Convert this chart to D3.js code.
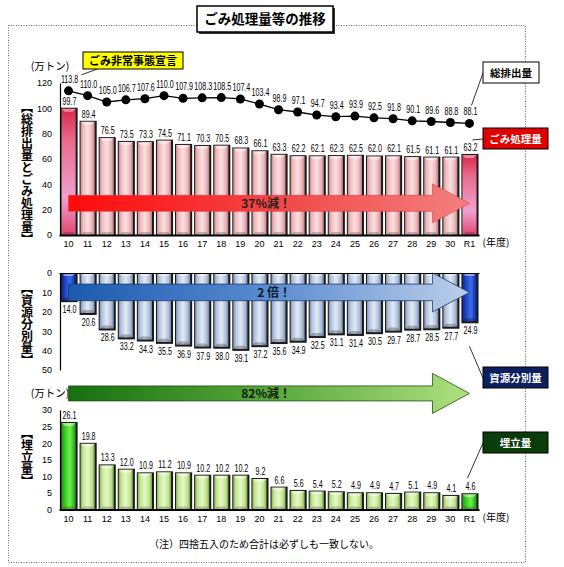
<!DOCTYPE html>
<html>
<head>
<meta charset="utf-8">
<script src="https://cdn.jsdelivr.net/npm/d3@7"></script>
<style>
  body { margin: 0; background: #fff; }
  svg { display: block; }
  text { font-family: "Noto Sans CJK JP", sans-serif; }
  .num, .tick text { font-family: "Liberation Sans Narrow", "Liberation Sans", sans-serif; }
  .vtitle { writing-mode: vertical-rl; font-weight: bold; font-size: 12px; }
</style>
</head>
<body>
<svg id="chart" width="564" height="567"></svg>
<script>
// fiscal years (H10 .. H30, R1)
const years = ["10", "11", "12", "13", "14", "15", "16", "17", "18", "19", "20",
               "21", "22", "23", "24", "25", "26", "27", "28", "29", "30", "R1"];
// 総排出量 (line)
const totalWaste = [113.8, 110.0, 105.0, 106.7, 107.6, 110.0, 107.9, 108.3, 108.5, 107.4, 103.4,
                    98.9, 97.1, 94.7, 93.4, 93.9, 92.5, 91.8, 90.1, 89.6, 88.8, 88.1];
// ごみ処理量
const processed = [99.7, 89.4, 76.5, 73.5, 73.3, 74.5, 71.1, 70.3, 70.5, 68.3, 66.1,
                   63.3, 62.2, 62.1, 62.3, 62.5, 62.0, 62.1, 61.5, 61.1, 61.1, 63.2];
// 資源分別量
const recycled = [14.0, 20.6, 28.6, 33.2, 34.3, 35.5, 36.9, 37.9, 38.0, 39.1, 37.2,
                  35.6, 34.9, 32.5, 31.1, 31.4, 30.5, 29.7, 28.7, 28.5, 27.7, 24.9];
// 埋立量
const landfill = [26.1, 19.8, 13.3, 12.0, 10.9, 11.2, 10.9, 10.2, 10.2, 10.2, 9.2,
                  6.6, 5.6, 5.4, 5.2, 4.9, 4.9, 4.7, 5.1, 4.9, 4.1, 4.6];
const ticks1 = [0, 20, 40, 60, 80, 100, 120];
const ticks2 = [0, 10, 20, 30, 40, 50];
const ticks3 = [0, 5, 10, 15, 20, 25, 30];

const svg = d3.select("#chart");
const defs = svg.append("defs");

const x = d3.scaleBand().domain(years).range([59, 479]).paddingInner(0.26).paddingOuter(0.13);
const bw = x.bandwidth();
const cx = i => x(years[i]) + bw / 2;

const y1 = d3.scaleLinear().domain([0, 120]).range([235, 83]);
const y2 = d3.scaleLinear().domain([0, 50]).range([273, 370]);
const y3 = d3.scaleLinear().domain([0, 30]).range([509.5, 410]);

// gradients
const grad = (id, stops, vertical) => {
    const g = defs.append("linearGradient").attr("id", id)
        .attr("x1", 0).attr("y1", 0).attr("x2", vertical ? 0 : 1).attr("y2", vertical ? 1 : 0);
    stops.forEach(s => g.append("stop").attr("offset", s[0]).attr("stop-color", s[1]));
};
grad("pink", [[0, "#c98c90"], [0.18, "#efbcbf"], [0.5, "#fbe0e1"], [0.82, "#eab4b7"], [1, "#b87c80"]]);
grad("pinkHi", [[0, "#d8284a"], [0.25, "#e86a8c"], [0.7, "#f0a0d0"], [1, "#e04870"]], true);
grad("blue", [[0, "#7f93b3"], [0.18, "#b6c6de"], [0.5, "#e2eaf5"], [0.82, "#afc0da"], [1, "#6f84a6"]]);
grad("blueHi", [[0, "#0a2590"], [0.4, "#2a58d8"], [0.6, "#3d6cea"], [1, "#0a2590"]]);
grad("green", [[0, "#88b058"], [0.18, "#c4e894"], [0.5, "#e6f8c8"], [0.82, "#bee48c"], [1, "#78a04a"]]);
grad("greenHi", [[0, "#1e9a10"], [0.4, "#50e030"], [0.6, "#70f050"], [1, "#1e9a10"]]);
grad("redArrow", [[0, "#ff0a0a"], [0.55, "#f24a4a"], [1, "#f38080"]]);
grad("blueArrow", [[0, "#1c5aae"], [0.5, "#5a8cd0"], [1, "#bccfea"]]);
grad("greenArrow", [[0, "#16700e"], [0.5, "#58a83a"], [1, "#b0e080"]]);

// frame and title
svg.append("rect").attr("x", 8.5).attr("y", 25.5).attr("width", 517).attr("height", 537)
    .attr("fill", "none").attr("stroke", "#666").attr("stroke-dasharray", "1,1.5");
svg.append("rect").attr("x", 199).attr("y", 8).attr("width", 136).attr("height", 26).attr("fill", "#333");
svg.append("rect").attr("x", 197).attr("y", 6).attr("width", 136).attr("height", 26)
    .attr("fill", "#fff").attr("stroke", "#000").attr("stroke-width", 1.5);
svg.append("text").attr("x", 265).attr("y", 24).attr("text-anchor", "middle")
    .attr("font-size", 13.5).attr("font-weight", "bold").text("ごみ処理量等の推移");

// bars with a bevelled look
function drawBars(g, values, y, fill, fillHi, hanging) {
    const base = y(0);
    const last = values.length - 1;
    const top = d => hanging ? base : y(d);
    const end = d => hanging ? y(d) : base;
    const bars = g.selectAll("g.bar").data(values).join("g").attr("class", "bar");

    bars.append("rect")
        .attr("x", (d, i) => x(years[i]) - 1)
        .attr("y", d => top(d) - (hanging ? 0 : 1))
        .attr("width", bw + 3)
        .attr("height", d => end(d) - top(d) + (hanging ? 2 : 1))
        .attr("fill", "#1a1a1a");
    bars.append("rect")
        .attr("x", (d, i) => x(years[i]))
        .attr("y", d => top(d))
        .attr("width", bw)
        .attr("height", d => end(d) - top(d))
        .attr("fill", (d, i) => (i === 0 || i === last) ? `url(#${fillHi})` : `url(#${fill})`);
    // bevel at the free end
    bars.append("path")
        .attr("d", (d, i) => {
            const x0 = x(years[i]), x1 = x0 + bw;
            const e = hanging ? end(d) : top(d);
            const s = hanging ? -3 : 3;
            return `M${x0},${e}L${x1},${e}L${x1 - 3},${e + s}L${x0 + 3},${e + s}Z`;
        })
        .attr("fill", hanging ? "#000" : "#fff")
        .attr("opacity", hanging ? 0.25 : 0.45);
    // bevel at the base
    bars.append("path")
        .attr("d", (d, i) => {
            const x0 = x(years[i]), x1 = x0 + bw;
            const s = hanging ? 3 : -3;
            return `M${x0},${base}L${x1},${base}L${x1 - 3},${base + s}L${x0 + 3},${base + s}Z`;
        })
        .attr("fill", hanging ? "#fff" : "#000")
        .attr("opacity", hanging ? 0.45 : 0.2);
}

// value labels, squeezed horizontally like the narrow gothic of the original
function valueLabels(cls, values, ypos) {
    svg.selectAll("text." + cls).data(values).join("text").attr("class", cls + " num")
        .attr("transform", (d, i) => `translate(${cx(i) + 1},${ypos(d)}) scale(0.7,1)`)
        .attr("text-anchor", "middle").attr("font-size", 10.2).text(d => d.toFixed(1));
}

function arrow(y, x0, x1, halfBody, halfHead, headLen) {
    const xh = x1 - headLen;
    return `M${x0},${y - halfBody}L${xh},${y - halfBody}L${xh},${y - halfHead}L${x1},${y}` +
           `L${xh},${y + halfHead}L${xh},${y + halfBody}L${x0},${y + halfBody}Z`;
}

function yTitle(text, cy) {
    svg.append("text").attr("class", "vtitle").attr("x", 27).attr("y", cy)
        .attr("text-anchor", "middle").text(text);
}

function legendBox(text, bx, by, w, fill, color, tx, ty) {
    svg.append("line").attr("x1", bx).attr("y1", by + 11).attr("x2", tx).attr("y2", ty)
        .attr("stroke", "#000").attr("stroke-width", 0.8);
    svg.append("rect").attr("x", bx).attr("y", by).attr("width", w).attr("height", 21)
        .attr("fill", fill).attr("stroke", "#000").attr("stroke-width", 1);
    svg.append("text").attr("x", bx + w / 2).attr("y", by + 15).attr("text-anchor", "middle")
        .attr("font-size", 10.5).attr("font-weight", "bold").attr("fill", color).text(text);
}

function styleAxis(g, width) {
    g.select(".domain").attr("stroke", "#000").attr("stroke-width", width);
    g.selectAll(".tick text").attr("font-size", 9).attr("fill", "#000");
}

const nLast = years.length - 1;

// ---------- chart 1: 総排出量 / ごみ処理量 ----------
const g1 = svg.append("g");
drawBars(g1, processed, y1, "pink", "pinkHi", false);

svg.append("path")
    .attr("d", arrow(y1(25), cx(0), cx(nLast), 8, 19.5, 37))
    .attr("fill", "url(#redArrow)").attr("stroke", "#d84040").attr("stroke-width", 0.6);
svg.append("text").attr("x", (cx(0) + cx(nLast)) / 2 + 22).attr("y", y1(25) + 4.5)
    .attr("text-anchor", "end").attr("font-size", 12).attr("font-weight", "bold")
    .attr("fill", "#222").text("37%減！");

const ax1 = svg.append("g").attr("transform", `translate(60,0)`)
    .call(d3.axisLeft(y1).tickValues(ticks1).tickSize(0).tickPadding(8));
styleAxis(ax1, 1.2);
const bx1 = svg.append("g").attr("transform", `translate(0,${y1(0)})`)
    .call(d3.axisBottom(x).tickSize(0).tickPadding(6));
styleAxis(bx1, 2);

svg.append("path").datum(totalWaste)
    .attr("d", d3.line().x((d, i) => cx(i)).y(d => y1(d)))
    .attr("fill", "none").attr("stroke", "#000").attr("stroke-width", 1.3);
svg.selectAll("circle.total").data(totalWaste).join("circle").attr("class", "total")
    .attr("cx", (d, i) => cx(i)).attr("cy", d => y1(d)).attr("r", 4.5).attr("fill", "#000");
valueLabels("totalLbl", totalWaste, d => y1(d) - 8);
valueLabels("procLbl", processed, d => y1(d) - 4);

svg.append("text").attr("x", 50).attr("y", 70).attr("text-anchor", "middle")
    .attr("font-size", 10.5).text("(万トン)");
svg.append("text").attr("x", 496).attr("y", y1(0) + 11).attr("text-anchor", "middle")
    .attr("font-size", 10).text("(年度)");
yTitle("【総排出量とごみ処理量】", 173);

// callout
svg.append("line").attr("x1", 100).attr("y1", 68).attr("x2", cx(0) + 13).attr("y2", y1(totalWaste[0]) - 16)
    .attr("stroke", "#000").attr("stroke-width", 0.8);
svg.append("rect").attr("x", 83).attr("y", 52).attr("width", 100).attr("height", 17)
    .attr("fill", "#ffff00").attr("stroke", "#000").attr("stroke-width", 1);
svg.append("text").attr("x", 133).attr("y", 64.5).attr("text-anchor", "middle")
    .attr("font-size", 11).attr("font-weight", "bold").text("ごみ非常事態宣言");

legendBox("総排出量", 483, 62, 56, "#fff", "#000", cx(nLast) + 2, y1(totalWaste[nLast]) - 18);
legendBox("ごみ処理量", 483, 128, 65, "#e00000", "#fff", cx(nLast) + 3, y1(processed[nLast]) - 15);

// ---------- chart 2: 資源分別量 (hanging bars) ----------
const g2 = svg.append("g");
drawBars(g2, recycled, y2, "blue", "blueHi", true);

svg.append("path")
    .attr("d", arrow(y2(10), cx(0), cx(nLast), 8.3, 19.5, 37))
    .attr("fill", "url(#blueArrow)").attr("stroke", "#1a3a70").attr("stroke-width", 0.8);
svg.append("text").attr("x", (cx(0) + cx(nLast)) / 2 + 22).attr("y", y2(10) + 4.5)
    .attr("text-anchor", "end").attr("font-size", 12).attr("font-weight", "bold")
    .attr("fill", "#101a30").text("2 倍！");

const ax2 = svg.append("g").attr("transform", `translate(60,0)`)
    .call(d3.axisLeft(y2).tickValues(ticks2).tickSize(0).tickPadding(8));
styleAxis(ax2, 1.2);
const tx2 = svg.append("g").attr("transform", `translate(0,${y2(0)})`)
    .call(d3.axisTop(x).tickSize(0).tickFormat(""));
styleAxis(tx2, 1.2);

valueLabels("recLbl", recycled, d => y2(d) + 13);
yTitle("【資源分別量】", 324);
legendBox("資源分別量", 483, 367, 65, "#0b1f5e", "#fff", cx(nLast), y2(recycled[nLast]) + 25);

// ---------- chart 3: 埋立量 ----------
svg.append("text").attr("x", 50).attr("y", y3(35) + 4).attr("text-anchor", "middle")
    .attr("font-size", 10.5).text("(万トン)");
svg.append("path")
    .attr("d", arrow(y3(35), cx(0), cx(nLast), 7.5, 20, 37))
    .attr("fill", "url(#greenArrow)").attr("stroke", "#1f4f10").attr("stroke-width", 0.8);
svg.append("text").attr("x", (cx(0) + cx(nLast)) / 2 + 22).attr("y", y3(35) + 4.5)
    .attr("text-anchor", "end").attr("font-size", 12).attr("font-weight", "bold")
    .attr("fill", "#102010").text("82%減！");

const g3 = svg.append("g");
drawBars(g3, landfill, y3, "green", "greenHi", false);

const ax3 = svg.append("g").attr("transform", `translate(60,0)`)
    .call(d3.axisLeft(y3).tickValues(ticks3).tickSize(0).tickPadding(8));
styleAxis(ax3, 1.2);
const bx3 = svg.append("g").attr("transform", `translate(0,${y3(0)})`)
    .call(d3.axisBottom(x).tickSize(0).tickPadding(6));
styleAxis(bx3, 2);

valueLabels("landLbl", landfill, d => y3(d) - 4);
svg.append("text").attr("x", 496).attr("y", y3(0) + 11).attr("text-anchor", "middle")
    .attr("font-size", 10).text("(年度)");
yTitle("【埋立量】", 457);
legendBox("埋立量", 483, 432, 65, "#0b3d0b", "#fff", cx(nLast) - 2, y3(landfill[nLast]) - 16);

// note
svg.append("text").attr("x", 264).attr("y", 548).attr("text-anchor", "middle")
    .attr("font-size", 10).text("（注）四捨五入のため合計は必ずしも一致しない。");
</script>
</body>
</html>
